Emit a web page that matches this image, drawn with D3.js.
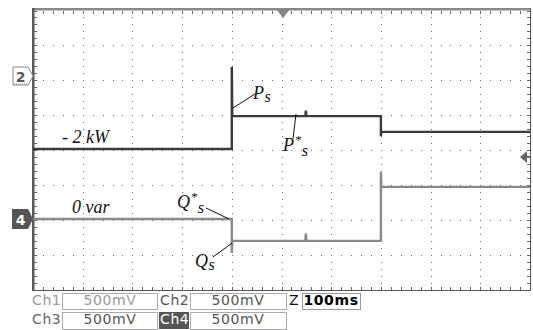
<!DOCTYPE html>
<html><head><meta charset="utf-8">
<script src="https://cdn.jsdelivr.net/npm/d3@7/dist/d3.min.js"></script>
<style>body{margin:0;background:#fff}svg{display:block}</style>
</head><body>
<svg id="c" width="533" height="330"></svg>
<script>
// ---- data ----
const timeDomain = [0, 1000];          // ms, 10 div x 100 ms
const divisionsX = 10;
const divisionsY = 8;
// Ch2: active power P (kW)
const pTimes  = [0, 400, 400, 401, 548, 549, 550, 700, 700, 701, 1000];
const pValues = [-2, -2, 0.25, -1.1, -1.1, -0.95, -1.1, -1.1, -1.65, -1.53, -1.53];
// Ch4: reactive power Q (kvar)
const qTimes  = [0, 400, 400, 401, 548, 549, 550, 700, 700, 701, 1000];
const qValues = [0, 0, -0.93, -0.6, -0.6, -0.4, -0.6, -0.6, 1.29, 0.88, 0.88];
const chNames  = ["Ch1", "Ch2", "Ch3", "Ch4"];
const chScales = ["500mV", "500mV", "500mV", "500mV"];
const timebase = "100ms";

// ---- scales ----
const svg = d3.select("#c");
const X0 = 33, X1 = 530, Y0 = 10.5, Y1 = 290;
const x = d3.scaleLinear().domain(timeDomain).range([X0, X1]);
const gy = d3.scaleLinear().domain([0, divisionsY]).range([Y0, Y1]);
const gx = d3.scaleLinear().domain([0, divisionsX]).range([X0, X1]);
const yP = d3.scaleLinear().domain([0, -2]).range([76, 149]);
const yQ = d3.scaleLinear().domain([0, -1]).range([219, 255.5]);

// ---- grid dots ----
const dots = svg.append("g").attr("fill", "#666");
for (let i = 1; i < divisionsX; i++) {
  for (let j = 0; j <= divisionsY * 5; j++) {
    dots.append("rect").attr("x", Math.round(gx(i))).attr("y", Math.round(gy(j / 5))).attr("width", 1).attr("height", 1);
  }
}
for (let k = 1; k < divisionsY; k++) {
  for (let j = 0; j <= divisionsX * 5; j++) {
    dots.append("rect").attr("x", Math.round(gx(j / 5))).attr("y", Math.round(gy(k))).attr("width", 1).attr("height", 1);
  }
}
// border ticks
const ticks = svg.append("g").attr("fill", "#666");
for (let j = 0; j <= divisionsY * 5; j++) {
  const yy = Math.round(gy(j / 5));
  ticks.append("rect").attr("x", X0 + 1).attr("y", yy).attr("width", 3).attr("height", 1);
  ticks.append("rect").attr("x", X1 - 3).attr("y", yy).attr("width", 3).attr("height", 1);
}
for (let j = 0; j <= divisionsX * 5; j++) {
  const xx = Math.round(gx(j / 5));
  ticks.append("rect").attr("x", xx).attr("y", Y1 - 3).attr("width", 1).attr("height", 3);
  ticks.append("rect").attr("x", xx).attr("y", 11).attr("width", 1).attr("height", 3);
}
// frame
svg.append("rect").attr("x", X0 - 1).attr("y", 8).attr("width", X1 - X0 + 2).attr("height", 2.5).attr("fill", "#888");
svg.append("rect").attr("x", X0 - 1).attr("y", 8).attr("width", 2.5).attr("height", Y1 - 8 + 1).attr("fill", "#5a5a5a");
svg.append("rect").attr("x", X1).attr("y", 8).attr("width", 1).attr("height", Y1 - 8 + 1).attr("fill", "#555");
svg.append("rect").attr("x", X0 - 1).attr("y", Y1).attr("width", X1 - X0 + 2).attr("height", 1).attr("fill", "#555");

// ---- traces ----
const lineP = d3.line().x((d, i) => x(pTimes[i])).y(d => yP(d));
const lineQ = d3.line().x((d, i) => x(qTimes[i])).y(d => yQ(d));
svg.append("path").attr("d", lineQ(qValues)).attr("fill", "none").attr("stroke", "#8a8a8a").attr("stroke-width", 2.4);
svg.append("path").attr("d", lineP(pValues)).attr("fill", "none").attr("stroke", "#3a3a3a").attr("stroke-width", 2.4);

// ---- markers ----
svg.append("path").attr("d", "M13,67H28L33,76L28,85H13Z").attr("fill", "#fff").attr("stroke", "#888").attr("stroke-width", 1);
svg.append("line").attr("x1", 14).attr("x2", 28).attr("y1", 84).attr("y2", 84).attr("stroke", "#888").attr("stroke-dasharray", "1,1");
svg.append("text").attr("x", 20.5).attr("y", 82).attr("text-anchor", "middle").attr("font-family", "DejaVu Sans").attr("font-weight", "bold").attr("font-size", 14).attr("fill", "#555").text("2");
svg.append("path").attr("d", "M12,209H28L33,219L28,229H12Z").attr("fill", "#555");
svg.append("text").attr("x", 20.5).attr("y", 224.5).attr("text-anchor", "middle").attr("font-family", "DejaVu Sans").attr("font-weight", "bold").attr("font-size", 14).attr("fill", "#fff").text("4");
svg.append("path").attr("d", "M276,9H290L283,18Z").attr("fill", "#888");
svg.append("rect").attr("x", 282.5).attr("y", 24).attr("width", 1).attr("height", 1).attr("fill", "#666");
svg.append("path").attr("d", "M520,157L527,151V163Z").attr("fill", "#666");
svg.append("rect").attr("x", 526).attr("y", 156).attr("width", 5).attr("height", 2).attr("fill", "#666");

// ---- annotations ----
const serif = "Liberation Serif";
function lab(xx, yy, main, sup, sub, size) {
  const g = svg.append("g").attr("font-family", serif).attr("font-style", "italic").attr("fill", "#111");
  const t = g.append("text").attr("x", xx).attr("y", yy).attr("font-size", size).text(main);
  let cx = xx + t.node().getComputedTextLength() + 0.5;
  if (sup) {
    const s = g.append("text").attr("x", cx).attr("y", yy - 7).attr("font-size", size * 0.75).text(sup);
    cx += s.node().getComputedTextLength() + 0.5;
  }
  if (sub) g.append("text").attr("x", cx).attr("y", yy + (sup ? 5 : 3)).attr("font-size", size * 0.9).text(sub);
}
lab(62, 143, "- 2 kW", null, null, 18);
lab(72, 213, "0 var", null, null, 18);
lab(253, 99, "P", null, "s", 18);
lab(283, 151, "P", "*", "s", 18);
lab(177, 208, "Q", "*", "s", 18);
lab(195, 267, "Q", null, "s", 18);
const leaders = [[233, 108, 255, 94], [296, 114, 293, 139], [206, 208, 229, 219], [232, 243, 213, 257]];
svg.append("g").selectAll("line").data(leaders).join("line")
  .attr("x1", d => d[0]).attr("y1", d => d[1]).attr("x2", d => d[2]).attr("y2", d => d[3])
  .attr("stroke", "#111").attr("stroke-width", 1);

// ---- bottom status ----
const sans = "DejaVu Sans";
const st = svg.append("g").attr("font-family", sans).attr("font-size", 14).attr("letter-spacing", 0.6);
function box(x0, y0, w, h, col) {
  st.append("rect").attr("x", x0 + 0.5).attr("y", y0 + 0.5).attr("width", w).attr("height", h).attr("fill", "none").attr("stroke", col).attr("stroke-width", 1);
}
// row 1
st.append("text").attr("x", 32).attr("y", 305).attr("fill", "#999").text(chNames[0]);
box(62, 293, 95, 16, "#aaa");
st.append("text").attr("x", 110).attr("y", 305).attr("text-anchor", "middle").attr("fill", "#999").text(chScales[0]);
st.append("text").attr("x", 160).attr("y", 305).attr("fill", "#555").text(chNames[1]);
box(190, 293, 96, 16, "#aaa");
st.append("text").attr("x", 238).attr("y", 305).attr("text-anchor", "middle").attr("fill", "#555").text(chScales[1]);
st.append("text").attr("x", 289).attr("y", 305).attr("fill", "#111").text("Z");
box(302, 293, 58, 16, "#999");
st.append("text").attr("x", 331).attr("y", 305).attr("text-anchor", "middle").attr("fill", "#000").attr("font-weight", "bold").text(timebase);
// row 2
st.append("text").attr("x", 32).attr("y", 324).attr("fill", "#666").text(chNames[2]);
box(62, 312, 95, 17, "#aaa");
st.append("text").attr("x", 110).attr("y", 324).attr("text-anchor", "middle").attr("fill", "#555").text(chScales[2]);
st.append("rect").attr("x", 159).attr("y", 312).attr("width", 30).attr("height", 17).attr("fill", "#555");
st.append("text").attr("x", 160).attr("y", 324).attr("fill", "#fff").text(chNames[3]);
box(190, 312, 96, 17, "#aaa");
st.append("text").attr("x", 238).attr("y", 324).attr("text-anchor", "middle").attr("fill", "#555").text(chScales[3]);
</script>
</body></html>
